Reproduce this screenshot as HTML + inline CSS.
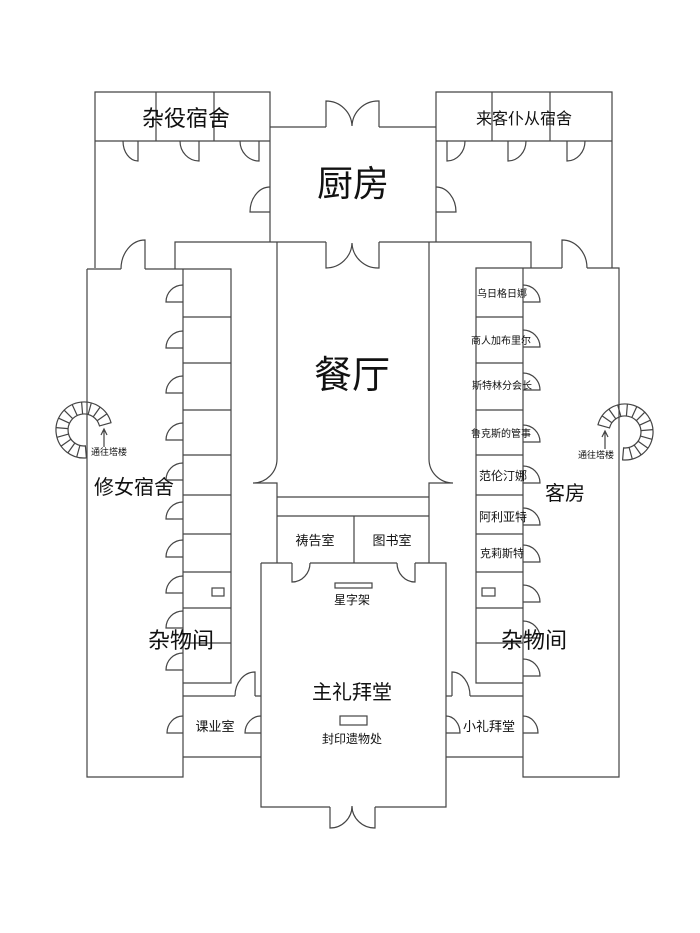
<!DOCTYPE html>
<html><head><meta charset="utf-8"><style>
html,body{margin:0;padding:0;background:#fff;}
svg{display:block;}
text{font-family:"Liberation Sans","Noto Sans CJK SC",sans-serif;fill:#111;text-anchor:middle;}
</style></head><body>
<svg width="700" height="933" viewBox="0 0 700 933" xmlns="http://www.w3.org/2000/svg">
<g fill="none" stroke="#444" stroke-width="1.2">
<!-- left dorm -->
<path d="M95,268 V92 H270 V242"/>
<path d="M95,141 H270 M156,92 V141 M214,92 V141"/>
<path d="M123,141 A15,20 0 0 0 138,161 V141 M180,141 A19,20 0 0 0 199,161 V141 M240,141 A19,20 0 0 0 259,161 V141"/>
<!-- right dorm -->
<path d="M436,242 V92 H612 V268"/>
<path d="M436,141 H612 M492,92 V141 M550,92 V141"/>
<path d="M465,141 A18,20 0 0 1 447,161 V141 M526,141 A18,20 0 0 1 508,161 V141 M585,141 A18,20 0 0 1 567,161 V141"/>
<!-- kitchen -->
<path d="M270,127 H326 M379,127 H436"/>
<path d="M326,127 V101 A26,26 0 0 1 352,126 A26,26 0 0 1 379,101 V127"/>
<path d="M270,187 A20,25 0 0 0 250,212 L270,212 M436,187 A20,25 0 0 1 456,212 L436,212"/>
<path d="M175,269 V242 H326 M379,242 H531 V268"/>
<path d="M326,242 V268 A26,26 0 0 0 352,243 A26,26 0 0 0 379,268 V242"/>
<!-- dining -->
<path d="M277,242 V459 A24,24 0 0 1 253,483 H277 V563"/>
<path d="M429,242 V459 A24,24 0 0 0 453,483 H429 V563"/>
<path d="M277,497 H429 M277,516 H429 M354,516 V563"/>
<!-- left wing -->
<path d="M87,269 H121 M145,269 H183 M87,269 V777 H183 V269"/>
<path d="M145,269 V240 A24,29 0 0 0 121,269"/>
<path d="M183,269 H231 V683 H183"/>
<path d="M183,317 H231 M183,363 H231 M183,410 H231 M183,455 H231 M183,495 H231 M183,534 H231 M183,572 H231 M183,608 H231 M183,643 H231"/>
<path d="M183,285 A17,17 0 0 0 166,302 H183 M183,331 A17,17 0 0 0 166,348 H183 M183,376 A17,17 0 0 0 166,393 H183 M183,423 A17,17 0 0 0 166,440 H183 M183,463 A17,17 0 0 0 166,480 H183 M183,502 A17,17 0 0 0 166,519 H183 M183,540 A17,17 0 0 0 166,557 H183 M183,576 A17,17 0 0 0 166,593 H183 M183,611 A17,17 0 0 0 166,628 H183 M183,653 A17,17 0 0 0 166,670 H183"/>
<rect x="212" y="588" width="12" height="8"/>
<!-- 课业室 -->
<path d="M183,696 H235 M255,696 H261 M255,696 V672 A20,24 0 0 0 235,696"/>
<path d="M183,757 H261"/>
<path d="M183,716 A16,17 0 0 0 167,733 H183 M261,716 A16,17 0 0 0 245,733 H261"/>
<!-- right wing -->
<path d="M523,268 H562 M587,268 H619 V777 H523 V268"/>
<path d="M562,268 V240 A25,28 0 0 1 587,268"/>
<path d="M523,268 H476 V683 H523"/>
<path d="M476,317 H523 M476,363 H523 M476,410 H523 M476,455 H523 M476,495 H523 M476,534 H523 M476,572 H523 M476,608 H523 M476,643 H523"/>
<path d="M523,285 A17,17 0 0 1 540,302 H523 M523,330 A17,17 0 0 1 540,347 H523 M523,373 A17,17 0 0 1 540,390 H523 M523,425 A17,17 0 0 1 540,442 H523 M523,466 A17,17 0 0 1 540,483 H523 M523,508 A17,17 0 0 1 540,525 H523 M523,545 A17,17 0 0 1 540,562 H523 M523,585 A17,17 0 0 1 540,602 H523 M523,621 A17,17 0 0 1 540,638 H523 M523,659 A17,17 0 0 1 540,676 H523"/>
<rect x="482" y="588" width="13" height="8"/>
<!-- 小礼拜堂 -->
<path d="M446,696 H452 M470,696 H523 M452,696 V672 A18,24 0 0 1 470,696"/>
<path d="M446,757 H523"/>
<path d="M446,716 A14,17 0 0 1 460,733 H446 M523,716 A15,17 0 0 1 538,733 H523"/>
<!-- chapel -->
<path d="M261,563 H292 M310,563 H397 M415,563 H446 V807 H375 M330,807 H261 V563"/>
<path d="M292,563 V582 A18,19 0 0 0 310,563 M415,563 V582 A18,19 0 0 1 397,563"/>
<path d="M330,807 V828 A22,22 0 0 0 352,806 A23,22 0 0 0 375,828 V807"/>
<rect x="335" y="583" width="37" height="5"/>
<rect x="340" y="716" width="27" height="9"/>
<!-- left spiral -->
<g>
<path d="M86.4,457.9 A28,28 0 1 1 111,422.7 L99.5,425.9 A16,16 0 1 0 85.4,445.9 Z"/>
<path d="M76.7,457 L79.9,445.5 M67.9,452.9 L74.8,443.1 M61.1,446.1 L70.9,439.2 M57,437.3 L68.5,434.1 M56.1,427.6 L68.1,428.6 M58.6,418.2 L69.5,423.2 M64.2,410.2 L72.7,418.7 M72.2,404.6 L77.2,415.5 M81.6,402.1 L82.6,414.1 M91.3,403 L88.1,414.5 M100.1,407.1 L93.2,416.9 M106.9,413.9 L97.1,420.8"/>
<path d="M104,447 V430 M101,435 L104,429 L107,435"/>
</g>
<g transform="translate(709,2) scale(-1,1)">
<path d="M86.4,457.9 A28,28 0 1 1 111,422.7 L99.5,425.9 A16,16 0 1 0 85.4,445.9 Z"/>
<path d="M76.7,457 L79.9,445.5 M67.9,452.9 L74.8,443.1 M61.1,446.1 L70.9,439.2 M57,437.3 L68.5,434.1 M56.1,427.6 L68.1,428.6 M58.6,418.2 L69.5,423.2 M64.2,410.2 L72.7,418.7 M72.2,404.6 L77.2,415.5 M81.6,402.1 L82.6,414.1 M91.3,403 L88.1,414.5 M100.1,407.1 L93.2,416.9 M106.9,413.9 L97.1,420.8"/>
<path d="M104,447 V430 M101,435 L104,429 L107,435"/>
</g>
</g>
<text x="186" y="126" font-size="22">杂役宿舍</text>
<text x="524" y="124" font-size="16">来客仆从宿舍</text>
<text x="353" y="196" font-size="36">厨房</text>
<text x="352" y="388" font-size="38">餐厅</text>
<text x="134" y="494" font-size="20">修女宿舍</text>
<text x="565" y="500" font-size="20">客房</text>
<text x="181" y="648" font-size="22">杂物间</text>
<text x="534" y="648" font-size="22">杂物间</text>
<text x="109" y="455" font-size="9">通往塔楼</text>
<text x="596" y="458" font-size="9">通往塔楼</text>
<text x="352" y="699" font-size="20">主礼拜堂</text>
<text x="352" y="743" font-size="12">封印遗物处</text>
<text x="352" y="604" font-size="12">星字架</text>
<text x="315" y="545" font-size="13">祷告室</text>
<text x="392" y="545" font-size="13">图书室</text>
<text x="215" y="731" font-size="13">课业室</text>
<text x="489" y="731" font-size="13">小礼拜堂</text>
<text x="502" y="297" font-size="10">乌日格日娜</text>
<text x="501" y="344" font-size="10">商人加布里尔</text>
<text x="502" y="389" font-size="10">斯特林分会长</text>
<text x="501" y="437" font-size="10">鲁克斯的管事</text>
<text x="503" y="480" font-size="12">范伦汀娜</text>
<text x="503" y="521" font-size="12">阿利亚特</text>
<text x="502" y="557" font-size="11">克莉斯特</text>
</svg>
</body></html>
